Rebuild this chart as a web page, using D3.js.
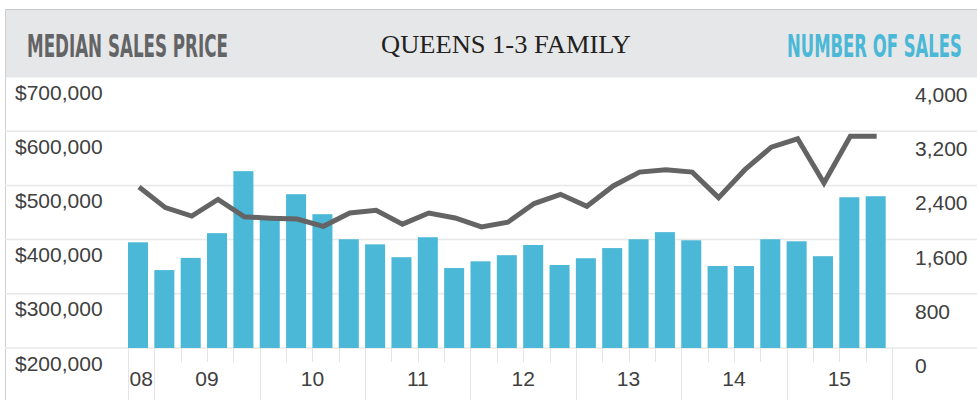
<!DOCTYPE html>
<html>
<head>
	<title></title>
	<style>
		body { margin: 0; background: #fff; }
		text { font-family: "Liberation Sans", Arial, sans-serif; }
	</style>
</head>
<body>
	<svg id="container" height="400" width="977"></svg>
</body>
<script src="https://d3js.org/d3.v7.min.js"></script>
<script>
	// quarters Q4 2008 .. Q4 2015
	let quarters = ["08Q4",
		"09Q1","09Q2","09Q3","09Q4",
		"10Q1","10Q2","10Q3","10Q4",
		"11Q1","11Q2","11Q3","11Q4",
		"12Q1","12Q2","12Q3","12Q4",
		"13Q1","13Q2","13Q3","13Q4",
		"14Q1","14Q2","14Q3","14Q4",
		"15Q1","15Q2","15Q3","15Q4"]
	let years = ["08","09","10","11","12","13","14","15"]

	let numberOfSales = [1560,
		1150,1330,1695,2610,
		1920,2270,1975,1605,
		1530,1340,1635,1180,
		1280,1370,1520,1225,
		1325,1475,1605,1710,
		1590,1210,1210,1605,
		1575,1355,2225,2240]

	let medianPrice = [497000,
		459000,443500,474000,442000,
		439500,438000,424500,449000,
		454000,428500,449000,440000,
		423500,432000,466500,483500,
		461500,499000,524500,529000,
		524500,477500,529000,570500,
		586000,504500,590500,590500]

	let priceTicks = [200000,300000,400000,500000,600000,700000]
	let salesTicks = [0,800,1600,2400,3200,4000]

	let svg = d3.select("#container")
	let W = 977, H = 400
	let plotTop = 77, plotBottom = 348

	let yPrice = d3.scaleLinear().domain([200000, 700000]).range([plotBottom, plotTop])
	let ySales = d3.scaleLinear().domain([0, 4000]).range([plotBottom, plotTop])
	let x = d3.scaleBand().domain(quarters).range([128, 892]).padding(0)
	let barW = x.bandwidth() * 0.76

	// frame + header band
	svg.append("rect").attr("x", 5).attr("y", 9.5).attr("width", W - 5).attr("height", 68)
		.attr("fill", "#e6e7e8")
	svg.append("line").attr("x1", 5).attr("x2", W).attr("y1", 9.5).attr("y2", 9.5)
		.attr("stroke", "#c8c8c8").attr("stroke-width", 1)
	svg.append("line").attr("x1", 5.5).attr("x2", 5.5).attr("y1", 9).attr("y2", H)
		.attr("stroke", "#d0d0d0").attr("stroke-width", 1)

	// condensed headers: squeeze a bold face horizontally to the measured width
	function header(txt, x0, width, colour) {
		let t = svg.append("text").attr("x", 0).attr("y", 0)
			.text(txt)
			.style("font-family", "'DejaVu Sans Condensed', 'DejaVu Sans', sans-serif")
			.style("font-weight", "bold").style("font-size", "32px")
			.attr("fill", colour)
		let sx = width / t.node().getComputedTextLength()
		t.attr("transform", `translate(${x0},57) scale(${sx},1)`)
	}
	header("MEDIAN SALES PRICE", 27, 201, "#636466")
	header("NUMBER OF SALES", 787, 175, "#4ab8d6")

	svg.append("text").attr("x", 381).attr("y", 53)
		.text("QUEENS 1-3 FAMILY")
		.style("font-family", "'Liberation Serif', 'DejaVu Serif', serif")
		.style("font-size", "26px")
		.attr("textLength", 250).attr("lengthAdjust", "spacingAndGlyphs")
		.attr("fill", "#231f20")

	// gridlines
	svg.append("g").selectAll("line")
		.data(priceTicks.slice(0, -1))
		.enter().append("line")
		.attr("x1", 5).attr("x2", W)
		.attr("y1", d => yPrice(d)).attr("y2", d => yPrice(d))
		.attr("stroke", "#e8e8e8").attr("stroke-width", 1.5)

	// left axis labels
	svg.append("g").selectAll("text")
		.data(priceTicks)
		.enter().append("text")
		.attr("x", 15).attr("y", d => yPrice(d) + 22.5)
		.text(d => "$" + d3.format(",")(d))
		.style("font-size", "21px").attr("fill", "#404040")

	// right axis labels
	svg.append("g").selectAll("text")
		.data(salesTicks)
		.enter().append("text")
		.attr("x", 915).attr("y", d => ySales(d) + 25)
		.text(d => d3.format(",")(d))
		.style("font-size", "21px").attr("fill", "#404040")

	// bars
	svg.append("g").selectAll("rect")
		.data(numberOfSales)
		.enter().append("rect")
		.attr("x", (d, i) => x(quarters[i]))
		.attr("width", barW)
		.attr("y", d => ySales(d))
		.attr("height", d => plotBottom - ySales(d))
		.attr("fill", "#4ab8d6")

	// quarter ticks at the bottom
	let edges = quarters.map(q => x(q)).concat([x.range()[1]])
	let yearStart = q => q.endsWith("Q1")
	svg.append("g").selectAll("line")
		.data(edges)
		.enter().append("line")
		.attr("x1", d => Math.round(d) + 0.5).attr("x2", d => Math.round(d) + 0.5)
		.attr("y1", plotBottom)
		.attr("y2", (d, i) => (i == 0 || i == quarters.length || yearStart(quarters[i])) ? H : plotBottom + 14)
		.attr("stroke", "#e4e4e4").attr("stroke-width", 1)

	// year labels centred on each year's quarters
	svg.append("g").selectAll("text")
		.data(years)
		.enter().append("text")
		.attr("x", y => {
			let qs = quarters.filter(q => q.startsWith(y))
			return (x(qs[0]) + x(qs[qs.length - 1]) + x.bandwidth()) / 2
		})
		.attr("y", 386)
		.attr("text-anchor", "middle")
		.text(d => d)
		.style("font-size", "21px").attr("fill", "#404040")

	// median price line
	let line = d3.line()
		.x((d, i) => x(quarters[i]) + barW / 2 + 1)
		.y(d => yPrice(d))

	svg.append("path")
		.datum(medianPrice)
		.attr("d", line)
		.attr("fill", "none")
		.attr("stroke", "#646464")
		.attr("stroke-width", 5)
		.attr("stroke-linejoin", "miter")
</script>
</html>
